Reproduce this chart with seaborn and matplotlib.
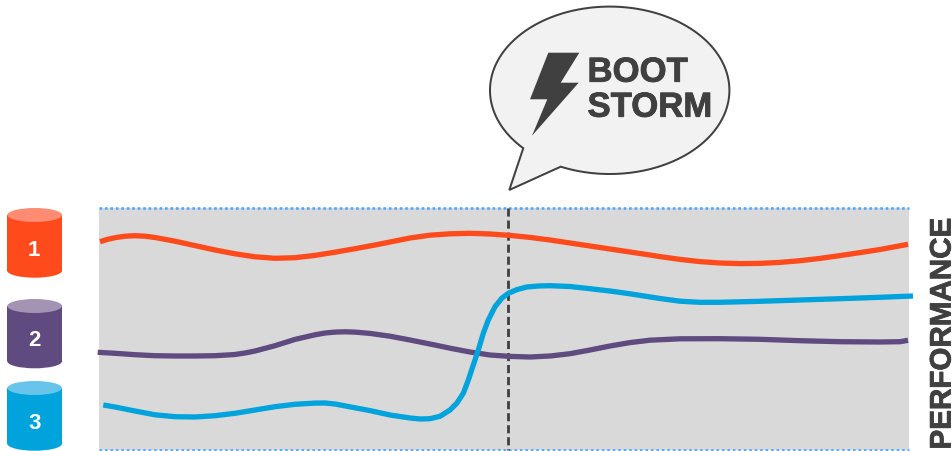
import matplotlib
matplotlib.use("Agg")
import matplotlib.pyplot as plt
import matplotlib.patheffects as pe
from matplotlib.patches import Ellipse, Polygon, Rectangle
import numpy as np
import pandas as pd
import seaborn as sns

# Traces on a canvas measured in pixels from the top-left corner
red_x = [100,107,115,125,135,145,155,175,195,215,235,255,275,295,315,335,355,375,390,410,430,450,470,490,510,530,550,570,590,610,630,650,660,680,700,720,740,760,780,800,820,840,860,880,908]
red_y = [241.7,239.5,237.7,236.2,235.7,236.2,237.5,241.2,245.6,250,253.8,256.8,258.3,257.7,255.4,252.2,248.7,245,242,238,235.2,233.8,233.3,234,235.4,237.4,240,243,246,249,252,255,256.6,259.4,261.6,263,263.6,263.4,262.4,260.7,258.4,255.6,252.6,249.5,244.3]

purple_x = [97.7,115,135,155,175,195,215,235,245,255,275,295,315,325,335,345,355,370,390,410,430,450,470,490,510,530,550,570,590,610,630,650,680,720,760,800,840,880,900,908]
purple_y = [352.3,353.3,354.7,355.7,356,356,355.7,354.5,353,351,345.7,339.4,334.8,333,332.1,331.8,332.1,333.4,336.2,340,344,348.2,352,355,356.4,357,356,353.7,350,346,342.6,340.2,338.8,338.7,339.3,340.7,341.7,342,341.7,340.3]

blue_x = [103.3,115,135,155,175,195,215,235,255,275,295,315,325,335,355,370,390,410,420,430,440,450,456.7,463.3,468.3,473.3,478.3,483.3,488.3,495,501.7,508.3,516.7,526.7,538.3,550,570,590,610,630,660,680,700,720,760,800,840,880,913]
blue_y = [405,407,411,414.8,416.7,417,415.7,413.3,410,406.7,404.3,403.1,403,404,407.8,410.6,415,418,419,418.7,416.3,410,403.3,393.3,380,365,350,333.3,320,306.7,298.3,293.3,289.7,287,286,285.7,286.5,288.7,291,293.8,298.5,301.2,302.3,302.3,301.3,300,298.7,297.3,296]

labels = ["1", "2", "3"]
palette = {"1": "#ff4a1c", "2": "#5f4b7f", "3": "#00a3dc"}
lid_colors = ["#ff8b72", "#a394b3", "#68c4ea"]
drum_tops = [208, 299, 381]
drum_bottoms = [277.7, 368.3, 450.7]
digit_centres = [250.5, 341, 423.5]

traces = pd.concat([
    pd.DataFrame({"x": xs, "y": ys, "volume": name})
    for name, xs, ys in zip(labels, (red_x, purple_x, blue_x), (red_y, purple_y, blue_y))
])

sns.set_theme(style="white")
plt.rcParams["font.family"] = ["Liberation Sans", "DejaVu Sans"]

fig = plt.figure(figsize=(9.52, 4.51), dpi=100, facecolor="white")
ax = fig.add_axes([0, 0, 1, 1])
ax.set_xlim(0, 952)
ax.set_ylim(451, 0)
ax.set_axis_off()

PX = 0.72
DARK = "#404040"
heavier = [pe.withStroke(linewidth=0.6, foreground=DARK)]

# Shaded panel with dotted top and bottom rules
ax.add_patch(Rectangle((99, 208), 810, 242, facecolor="#d9d9d9", edgecolor="none", zorder=1))
for rule_y in (208, 450):
    ax.plot([99, 909], [rule_y, rule_y], color="#4da6ff", lw=2.6 * PX,
            ls=(0, (1, 1.1)), zorder=2, dash_capstyle="butt")

# Event marker
ax.plot([508.3, 508.3], [208, 450], color=DARK, lw=2.8 * PX, ls=(0, (2.9, 1.4)),
        dash_capstyle="butt", zorder=2)

sns.lineplot(data=traces, x="x", y="y", hue="volume", palette=palette, estimator=None,
             sort=False, linewidth=5.3 * PX, legend=False, ax=ax, zorder=3,
             solid_capstyle="butt", solid_joinstyle="round")
ax.set_xlim(0, 952)
ax.set_ylim(451, 0)

# Storage drums
drum_left, drum_width, lid_height = 7.3, 54.7, 14
for name, lid, top, bottom, cy in zip(labels, lid_colors, drum_tops, drum_bottoms, digit_centres):
    body = palette[name]
    cx = drum_left + drum_width / 2
    ax.add_patch(Ellipse((cx, bottom - lid_height / 2), drum_width, lid_height, fc=body, ec="none", zorder=4))
    ax.add_patch(Rectangle((drum_left, top + lid_height / 2), drum_width,
                           bottom - top - lid_height, fc=body, ec="none", zorder=4))
    ax.add_patch(Ellipse((cx, top + lid_height / 2), drum_width, lid_height, fc=lid, ec="none", zorder=5))
    ax.text(cx - 0.5, cy, name, color="white", fontsize=16, fontweight="bold",
            ha="center", va="center", zorder=6)

# Speech bubble outline: an elliptical arc closed through the tail tip
cx, cy, a, b = 609.7, 90.3, 119.7, 83.7
start = np.arctan2((166.7 - cy) / b, (560.7 - cx) / a)
end = np.arctan2((147.7 - cy) / b, (524 - cx) / a) - 2 * np.pi
theta = np.linspace(start, end, 240)
outline = np.column_stack([cx + a * np.cos(theta), cy + b * np.sin(theta)])
outline = np.vstack([outline, [[509.3, 190]]])
ax.add_patch(Polygon(outline, closed=True, fc="#f2f2f2", ec=DARK, lw=2 * PX,
                     joinstyle="miter", zorder=5))

bolt_x = [548.3, 579.3, 560.7, 578.7, 532, 547.3, 530]
bolt_y = [52.7, 52.7, 82.7, 82.7, 135.7, 99.3, 99.3]
ax.add_patch(Polygon(np.column_stack([bolt_x, bolt_y]), closed=True, fc=DARK, ec="none", zorder=6))

ax.text(587.5, 81.7, "BOOT", color=DARK, fontsize=25, fontweight="bold", ha="left",
        va="baseline", zorder=6, path_effects=heavier)
ax.text(587.5, 116.7, "STORM", color=DARK, fontsize=25, fontweight="bold", ha="left",
        va="baseline", zorder=6, path_effects=heavier)

ax.text(950.5, 449.5, "PERFORMANCE", color=DARK, fontsize=21.3, fontweight="bold", rotation=90,
        ha="left", va="baseline", rotation_mode="anchor", zorder=6, path_effects=heavier)

fig.savefig("out.png", dpi=100, facecolor="white")
